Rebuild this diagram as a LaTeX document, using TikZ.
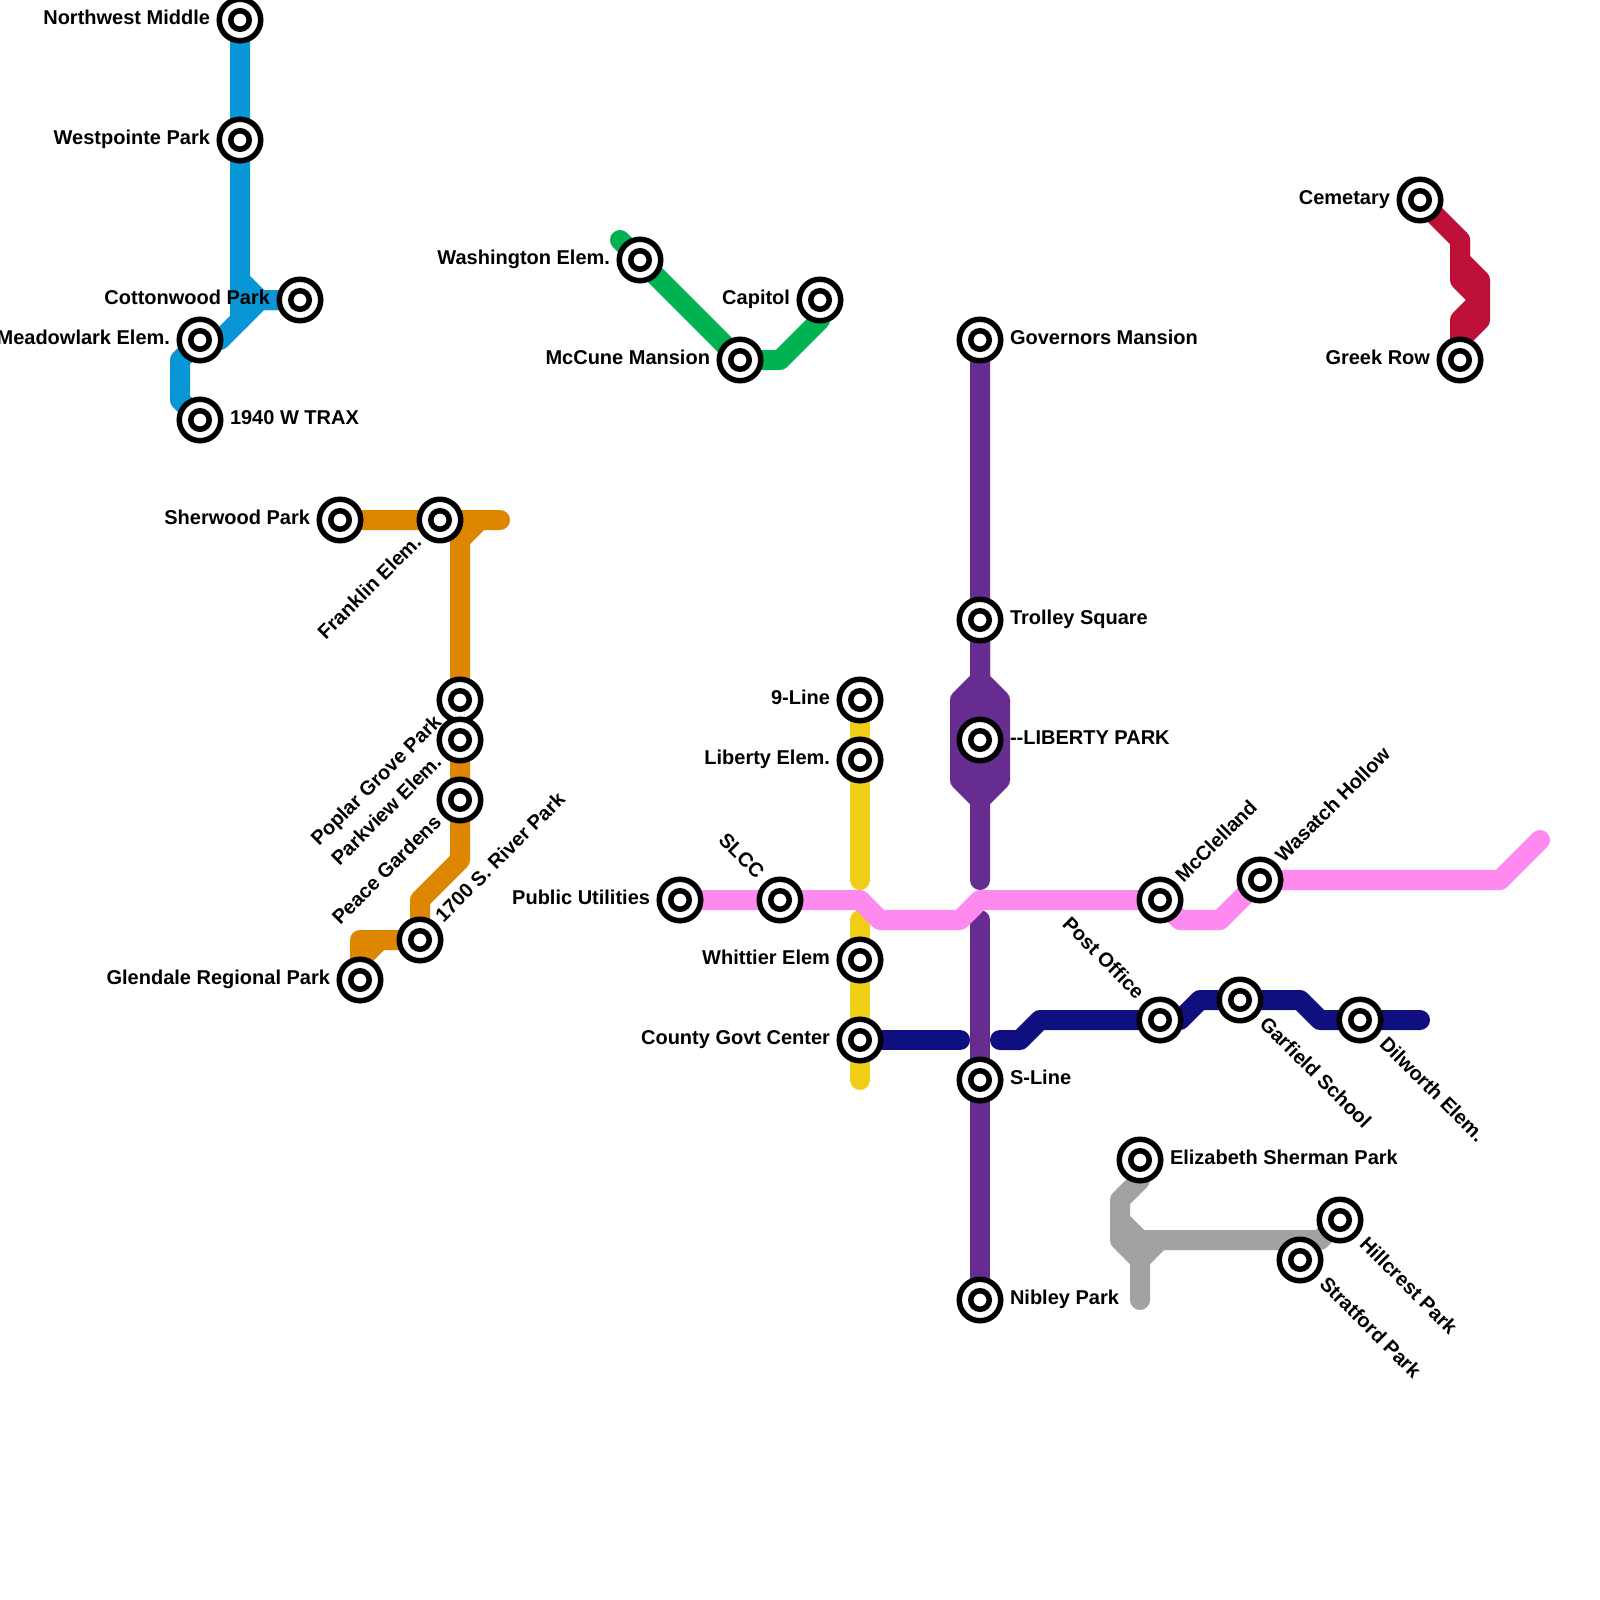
\documentclass[tikz,border=0pt]{standalone}
\usepackage{fontspec}
\setmainfont{Liberation Sans}
\pgfdeclarelayer{lines}
\pgfdeclarelayer{stations}
\pgfsetlayers{lines,stations,main}
\definecolor{lblue}{HTML}{0896D7}
\definecolor{lorange}{HTML}{DF8600}
\definecolor{lgreen}{HTML}{00B251}
\definecolor{lyellow}{HTML}{F0CE15}
\definecolor{lpurple}{HTML}{662C90}
\definecolor{lpink}{HTML}{FF8AEF}
\definecolor{lnavy}{HTML}{0F0F80}
\definecolor{lgray}{HTML}{A2A2A2}
\definecolor{lred}{HTML}{BD1038}
\tikzset{
  stn/.style={circle,draw=black,fill=white,line width=5.5pt,minimum size=41.5pt,inner sep=0pt,
    path picture={\draw[black,line width=5.5pt] (path picture bounding box.center) circle (9.25pt);}},
  route/.style={line width=20pt,line cap=round,line join=round},
  lab/.style={font=\fontsize{20}{24}\selectfont\bfseries,text=black,inner sep=0pt,outer sep=0pt},
  lw/.style={lab,anchor=base east,xshift=-30pt,yshift=-4.5pt},
  le/.style={lab,anchor=base west,xshift=30pt,yshift=-4.5pt},
  lne/.style={lab,anchor=base west,xshift=23.5pt,yshift=16.5pt,rotate=45},
  lse/.style={lab,anchor=base west,xshift=18.5pt,yshift=-25pt,rotate=-45},
  lsw/.style={lab,anchor=base east,xshift=-17.5pt,yshift=-23.5pt,rotate=45},
  lnw/.style={lab,anchor=base east,xshift=-24pt,yshift=20pt,rotate=-45},
}
\begin{document}
\begin{tikzpicture}[x=1pt,y=-1pt]
\useasboundingbox (0,0) rectangle (1600,1600);
\begin{pgfonlayer}{stations}
\node[stn] (nwm) at (240,20) {};
\node[stn] (wpp) at (240,140) {};
\node[stn] (cot) at (300,300) {};
\node[stn] (mea) at (200,340) {};
\node[stn] (tra) at (200,420) {};
\node[stn] (was) at (640,260) {};
\node[stn] (cap) at (820,300) {};
\node[stn] (mcc) at (740,360) {};
\node[stn] (cem) at (1420,200) {};
\node[stn] (gre) at (1460,360) {};
\node[stn] (gov) at (980,340) {};
\node[stn] (tro) at (980,620) {};
\node[stn] (lib) at (980,740) {};
\node[stn] (sln) at (980,1080) {};
\node[stn] (nib) at (980,1300) {};
\node[stn] (she) at (340,520) {};
\node[stn] (fra) at (440,520) {};
\node[stn] (pop) at (460,700) {};
\node[stn] (par) at (460,740) {};
\node[stn] (pea) at (460,800) {};
\node[stn] (riv) at (420,940) {};
\node[stn] (gle) at (360,980) {};
\node[stn] (nin) at (860,700) {};
\node[stn] (lie) at (860,760) {};
\node[stn] (whi) at (860,960) {};
\node[stn] (cgc) at (860,1040) {};
\node[stn] (pub) at (680,900) {};
\node[stn] (slc) at (780,900) {};
\node[stn] (mcl) at (1160,900) {};
\node[stn] (wah) at (1260,880) {};
\node[stn] (pos) at (1160,1020) {};
\node[stn] (gar) at (1240,1000) {};
\node[stn] (dil) at (1360,1020) {};
\node[stn] (eli) at (1140,1160) {};
\node[stn] (hil) at (1340,1220) {};
\node[stn] (str) at (1300,1260) {};
\end{pgfonlayer}
\coordinate (greenend) at (620,240);
\coordinate (orangeend) at (500,520);
\coordinate (pinkend) at (1540,840);
\coordinate (navyend) at (1420,1020);
\coordinate (navymidA) at (960,1040);
\coordinate (navymidB) at (1000,1040);
\coordinate (yellowA) at (860,880);
\coordinate (yellowB) at (860,920);
\coordinate (yellowend) at (860,1080);
\coordinate (purpleA) at (980,880);
\coordinate (purpleB) at (980,920);
\coordinate (grayend) at (1140,1300);
\begin{pgfonlayer}{lines}
% blue
\draw[route,lblue] (nwm.center) -- (240,280) -- (260,300) -- (cot.center);
\draw[route,lblue] (wpp.center) -- (240,320);
\draw[route,lblue] (cot.center) -- (260,300) -- (220,340) -- (mea.center) -- (180,360) -- (180,400) -- (tra.center);
% green
\draw[route,lgreen] (greenend) -- (mcc.center) -- (780,360) -- (820,320) -- (cap.center);
% crimson
\draw[route,lred] (cem.center) -- (1460,240) -- (1460,260) -- (1480,280) -- (1480,320) -- (1460,340) -- (gre.center);
\draw[route,lred] (1460,240) -- (1460,280) -- (1480,300) -- (1460,320) -- (gre.center);
% purple
\draw[route,lpurple] (gov.center) -- (980,680) -- (960,700) -- (960,780) -- (980,800) -- (purpleA);
\draw[route,lpurple] (tro.center) -- (980,680) -- (1000,700) -- (1000,780) -- (980,800);
\draw[route,lpurple] (980,680) -- (980,800);
\fill[lpurple] (960,700) rectangle (1000,780);
\draw[route,lpurple] (purpleB) -- (nib.center);
% orange
\draw[route,lorange] (she.center) -- (orangeend) -- (480,520) -- (460,540) -- (460,860) -- (420,900) -- (riv.center);
\draw[route,lorange] (riv.center) -- (360,940) -- (gle.center);
\draw[route,lorange] (riv.center) -- (380,940) -- (360,960) -- (gle.center);
% yellow
\draw[route,lyellow] (nin.center) -- (yellowA);
\draw[route,lyellow] (yellowB) -- (yellowend);
% pink
\draw[route,lpink] (pub.center) -- (860,900) -- (880,920) -- (960,920) -- (980,900) -- (mcl.center) -- (1180,920) -- (1220,920) -- (wah.center) -- (1500,880) -- (pinkend);
% navy
\draw[route,lnavy] (cgc.center) -- (navymidA);
\draw[route,lnavy] (navymidB) -- (1020,1040) -- (1040,1020) -- (1180,1020) -- (1200,1000) -- (1300,1000) -- (1320,1020) -- (navyend);
% gray
\draw[route,lgray] (eli.center) -- (1140,1180) -- (1120,1200) -- (1120,1240) -- (1140,1260) -- (grayend);
\draw[route,lgray] (1120,1220) -- (1140,1240) -- (1320,1240) -- (hil.center);
\draw[route,lgray] (1160,1240) -- (1140,1260);
\end{pgfonlayer}
% labels
\node[lw] (tnwm) at (nwm) {Northwest Middle};
\node[lw] (twpp) at (wpp) {Westpointe Park};
\node[lw] (tcot) at (cot) {Cottonwood Park};
\node[lw] (tmea) at (mea) {Meadowlark Elem.};
\node[le] (ttra) at (tra) {1940 W TRAX};
\node[lw] (twas) at (was) {Washington Elem.};
\node[lw] (tcap) at (cap) {Capitol};
\node[lw] (tmcc) at (mcc) {McCune Mansion};
\node[lw] (tcem) at (cem) {Cemetary};
\node[lw] (tgre) at (gre) {Greek Row};
\node[le] (tgov) at (gov) {Governors Mansion};
\node[le] (ttro) at (tro) {Trolley Square};
\node[le] (tlib) at (lib) {-{}-LIBERTY PARK};
\node[le] (tsln) at (sln) {S-Line};
\node[le] (tnib) at (nib) {Nibley Park};
\node[lw] (tshe) at (she) {Sherwood Park};
\node[lsw] (tfra) at (fra) {Franklin Elem.};
\node[lsw] (tpop) at (pop) {Poplar Grove Park};
\node[lsw] (tpar) at (par) {Parkview Elem.};
\node[lsw] (tpea) at (pea) {Peace Gardens};
\node[lne] (triv) at (riv) {1700 S. River Park};
\node[lw] (tgle) at (gle) {Glendale Regional Park};
\node[lw] (tnin) at (nin) {9-Line};
\node[lw] (tlie) at (lie) {Liberty Elem.};
\node[lw] (twhi) at (whi) {Whittier Elem};
\node[lw] (tcgc) at (cgc) {County Govt Center};
\node[lw] (tpub) at (pub) {Public Utilities};
\node[lnw] (tslc) at (slc) {SLCC};
\node[lne] (tmcl) at (mcl) {McClelland};
\node[lne] (twah) at (wah) {Wasatch Hollow};
\node[lnw] (tpos) at (pos) {Post Office};
\node[lse] (tgar) at (gar) {Garfield School};
\node[lse] (tdil) at (dil) {Dilworth Elem.};
\node[le] (teli) at (eli) {Elizabeth Sherman Park};
\node[lse] (thil) at (hil) {Hillcrest Park};
\node[lse] (tstr) at (str) {Stratford Park};
\end{tikzpicture}
\end{document}
